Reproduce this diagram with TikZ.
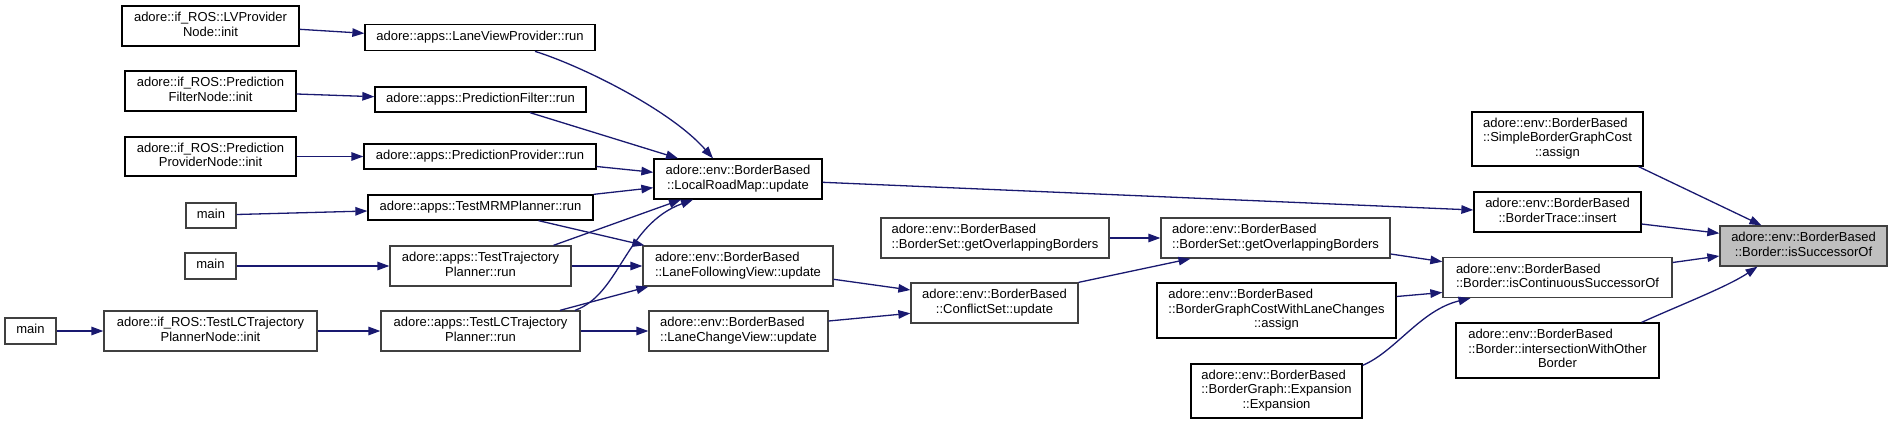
\documentclass[tikz,border=0pt]{standalone}
\usepackage{fontspec}
\setmainfont{Liberation Sans}
\usetikzlibrary{arrows.meta,calc}
\definecolor{edgec}{HTML}{191970}
\definecolor{bk}{HTML}{000000}
\definecolor{gr}{HTML}{404040}
\definecolor{rootfill}{HTML}{BFBFBF}
\newcommand\LA[1]{\begin{tabular}{@{}c@{}}#1\end{tabular}}
\newcommand\LB[2]{\begin{tabular}{@{}l@{}}#1\\\multicolumn{1}{@{}c@{}}{#2}\end{tabular}}
\newcommand\LC[3]{\begin{tabular}{@{}l@{}}#1\\#2\\\multicolumn{1}{@{}c@{}}{#3}\end{tabular}}
\tikzset{
  fn/.style={draw=bk, line width=1.3pt, fill=white, inner sep=0pt, font=\fontsize{13}{14.5}\selectfont},
  fng/.style={fn, draw=gr},
  call/.style={draw=edgec, line width=1.3pt, -{Triangle[length=12pt,width=8.5pt]}},
}
\begin{document}
\begin{tikzpicture}[x=1pt,y=-1pt]
\useasboundingbox (0,0) rectangle (1892,425);
% column 1
\node[fn, minimum width=177pt, minimum height=40pt] (lvnode) at (210.5,26) {\LB{adore::if\_ROS::LVProvider}{Node::init}};
\node[fn, minimum width=171pt, minimum height=40pt] (pfnode) at (210.5,91) {\LB{adore::if\_ROS::Prediction}{FilterNode::init}};
\node[fn, minimum width=171pt, minimum height=39pt] (ppnode) at (210.5,156.5) {\LB{adore::if\_ROS::Prediction}{ProviderNode::init}};
\node[fng, minimum width=50pt, minimum height=25pt] (main1) at (211,215.5) {\LA{main}};
\node[fng, minimum width=51pt, minimum height=26pt] (main2) at (210.5,266) {\LA{main}};
\node[fng, minimum width=51pt, minimum height=26pt] (main3) at (30.5,331) {\LA{main}};
\node[fng, minimum width=213pt, minimum height=40pt] (lcnode) at (210.5,331) {\LB{adore::if\_ROS::TestLCTrajectory}{PlannerNode::init}};
% column 2
\node[fn, minimum width=230pt, minimum height=26pt] (lvp) at (480,37.7) {\LA{adore::apps::LaneViewProvider::run}};
\node[fn, minimum width=211pt, minimum height=25pt] (pf) at (480.5,99.5) {\LA{adore::apps::PredictionFilter::run}};
\node[fn, minimum width=232pt, minimum height=25pt] (pp) at (480,156.5) {\LA{adore::apps::PredictionProvider::run}};
\node[fn, minimum width=225pt, minimum height=25pt] (mrm) at (480.5,207.5) {\LA{adore::apps::TestMRMPlanner::run}};
\node[fng, minimum width=181pt, minimum height=40pt] (ttp) at (480.5,266) {\LB{adore::apps::TestTrajectory}{Planner::run}};
\node[fng, minimum width=199pt, minimum height=40pt] (lcp) at (480.5,331) {\LB{adore::apps::TestLCTrajectory}{Planner::run}};
% column 3
\node[fn, minimum width=168pt, minimum height=40pt] (lrm) at (738,179) {\LB{adore::env::BorderBased}{::LocalRoadMap::update}};
\node[fng, minimum width=190pt, minimum height=40pt] (lfv) at (738,266) {\LB{adore::env::BorderBased}{::LaneFollowingView::update}};
\node[fng, minimum width=179pt, minimum height=40pt] (lcv) at (738.5,331) {\LB{adore::env::BorderBased}{::LaneChangeView::update}};
% column 4
\node[fng, minimum width=228pt, minimum height=40pt] (bsl) at (995,238) {\LB{adore::env::BorderBased}{::BorderSet::getOverlappingBorders}};
\node[fng, minimum width=167pt, minimum height=40pt] (cs) at (994.5,303) {\LB{adore::env::BorderBased}{::ConflictSet::update}};
% column 5
\node[fng, minimum width=229pt, minimum height=40pt] (bsr) at (1275.5,238) {\LB{adore::env::BorderBased}{::BorderSet::getOverlappingBorders}};
\node[fn, minimum width=239pt, minimum height=55pt] (bgc) at (1276.5,310.5) {\LC{adore::env::BorderBased}{::BorderGraphCostWithLaneChanges}{::assign}};
\node[fn, minimum width=171pt, minimum height=54pt] (exp) at (1276.5,391) {\LC{adore::env::BorderBased}{::BorderGraph::Expansion}{::Expansion}};
% column 6
\node[fn, minimum width=171pt, minimum height=54pt] (sbgc) at (1557.5,139) {\LC{adore::env::BorderBased}{::SimpleBorderGraphCost}{::assign}};
\node[fn, minimum width=167pt, minimum height=40pt] (bti) at (1557.5,212) {\LB{adore::env::BorderBased}{::BorderTrace::insert}};
\node[fng, minimum width=229pt, minimum height=40pt] (icso) at (1557.5,277.5) {\LB{adore::env::BorderBased}{::Border::isContinuousSuccessorOf}};
\node[fn, minimum width=203pt, minimum height=55pt] (iwob) at (1557.5,350.5) {\LC{adore::env::BorderBased}{::Border::intersectionWithOther}{Border}};
% root
\node[fng, fill=rootfill, minimum width=167pt, minimum height=40pt] (iso) at (1803.5,246) {\LB{adore::env::BorderBased}{::Border::isSuccessorOf}};
% edges
\draw[call] ($(lvnode.east)+(0,3.3)$) -- ($(lvp.west)+(0,-4.4)$);
\draw[call] ($(pfnode.east)+(0,3)$) -- ($(pf.west)+(0,-2.8)$);
\draw[call] (ppnode.east) -- (pp.west);
\draw[call] ($(main1.east)+(0,-1)$) -- ($(mrm.west)+(0,3.5)$);
\draw[call] (main2.east) -- (ttp.west);
\draw[call] (main3.east) -- (lcnode.west);
\draw[call] (lcnode.east) -- (lcp.west);
\draw[call] ($(lvp.south)+(55,0)$) .. controls +(45,14) and +(-43,-49) .. ($(lrm.north)+(-25,0)$);
\draw[call] ($(pf.south)+(49.5,0)$) -- ($(lrm.north)+(-60,0)$);
\draw[call] ($(pp.east)+(0,10)$) -- ($(lrm.west)+(0,-6.7)$);
\draw[call] (mrm.north east) -- ($(lrm.west)+(0,8.7)$);
\draw[call] ($(mrm.south)+(58,0)$) -- ($(lfv.north west)+(2,0)$);
\draw[call] ($(ttp.north)+(73,0)$) -- ($(lrm.south)+(-57,0)$);
\draw[call] (ttp.east) -- (lfv.west);
\draw[call] ($(lcp.north)+(94.5,0)$) .. controls +(45,-16) and +(-68,25) .. ($(lrm.south)+(-45,0)$);
\draw[call] ($(lcp.north)+(79.5,0)$) -- ($(lfv.south west)+(6,0)$);
\draw[call] (lcp.east) -- (lcv.west);
\draw[call] ($(lfv.east)+(0,13.3)$) -- ($(cs.west)+(0,-13)$);
\draw[call] ($(lcv.east)+(0,-10)$) -- ($(cs.west)+(0,10.3)$);
\draw[call] (cs.north east) -- ($(bsr.south)+(-85,0)$);
\draw[call] (bsl.east) -- (bsr.west);
\draw[call] ($(lrm.east)+(0,3.3)$) -- ($(bti.west)+(0,-2)$);
\draw[call] ($(bsr.east)+(0,16)$) -- ($(icso.west)+(0,-15.8)$);
\draw[call] ($(bgc.east)+(0,-14)$) -- ($(icso.west)+(0,15)$);
\draw[call] ($(exp.north east)+(0,2)$) .. controls +(33,-14) and +(-50,12) .. ($(icso.south)+(-87,0)$);
\draw[call] ($(sbgc.south east)+(-5,0)$) -- ($(iso.north)+(-42,0)$);
\draw[call] ($(bti.east)+(0,12)$) -- ($(iso.west)+(0,-12.7)$);
\draw[call] ($(icso.east)+(0,-15)$) -- ($(iso.west)+(0,10)$);
\draw[call] ($(iwob.north east)+(-18,0)$) .. controls +(40,-18) and +(-30,20) .. ($(iso.south)+(-46,0)$);
\end{tikzpicture}
\end{document}
